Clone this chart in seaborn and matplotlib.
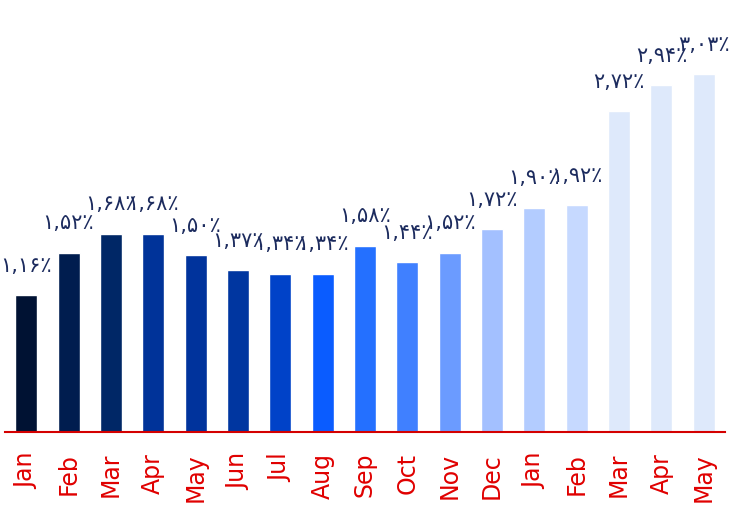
import matplotlib
matplotlib.use("Agg")
import matplotlib.pyplot as plt
import seaborn as sns
import pandas as pd

# data
months = ["Jan", "Feb", "Mar", "Apr", "May", "Jun", "Jul", "Aug", "Sep",
          "Oct", "Nov", "Dec", "Jan", "Feb", "Mar", "Apr", "May"]
rates = [1.16, 1.52, 1.68, 1.68, 1.50, 1.37, 1.34, 1.34, 1.58,
         1.44, 1.52, 1.72, 1.90, 1.92, 2.72, 2.94, 3.03]
bar_colors = ["#001233", "#001d4f", "#002766", "#003399", "#00339c", "#0036a0",
              "#0042c8", "#0a5cff", "#2470ff", "#4080ff", "#6b9bff", "#a3c0ff",
              "#b3ccff", "#c6d9ff", "#dee9fb", "#dee9fb", "#dee9fb"]

fa_digits = str.maketrans("0123456789", "۰۱۲۳۴۵۶۷۸۹")


def fa_label(v):
    return f"{v:.2f}".translate(fa_digits).replace(".", ",") + "٪"


df = pd.DataFrame({"pos": [str(i) for i in range(len(months))], "rate": rates})

sns.set_style("white")
fig = plt.figure(figsize=(7.3, 5.05), dpi=100)
ax = fig.add_axes([5 / 730, 73 / 505, 720 / 730, 432 / 505])

sns.barplot(data=df, x="pos", y="rate", hue="pos", palette=bar_colors,
            legend=False, width=0.52, saturation=1, ax=ax)

for i, v in enumerate(rates):
    ax.annotate(fa_label(v), (i, v), xytext=(0, 14), textcoords="offset points",
                ha="center", va="bottom", fontsize=15, color="#1c2b5e",
                family=["DejaVu Sans"], annotation_clip=False)

ax.set_ylim(0, 3.66)
ax.set_xlim(-0.5, len(months) - 0.5)
ax.set_xticks(range(len(months)))
ax.set_xticklabels(months, rotation=90, fontsize=17, color="#e00000")
ax.tick_params(axis="x", length=0, pad=15)
ax.set_yticks([])
ax.set_xlabel("")
ax.set_ylabel("")
for side in ["top", "right", "left"]:
    ax.spines[side].set_visible(False)
ax.spines["bottom"].set_color("#d40000")
ax.spines["bottom"].set_linewidth(1.5)

fig.savefig("out.png", dpi=100)
